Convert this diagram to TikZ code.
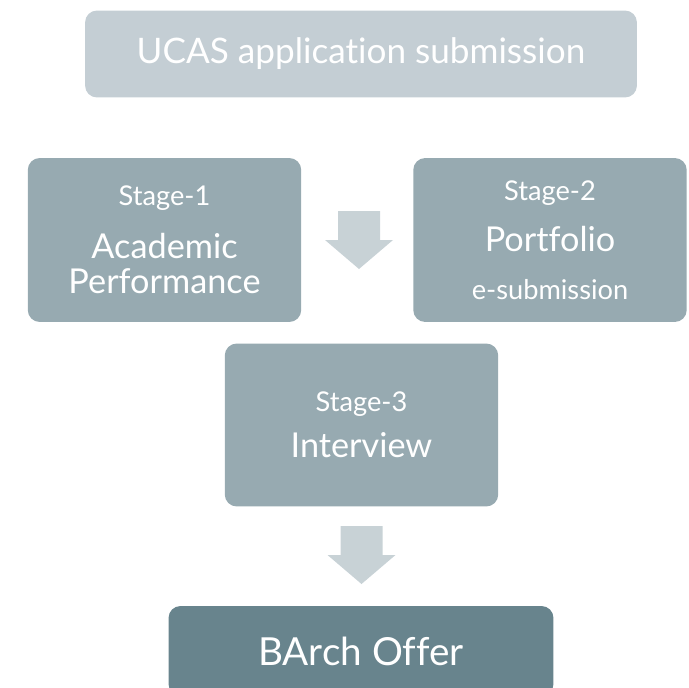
\documentclass[tikz,border=0pt]{standalone}
\usepackage{fontspec}
\setmainfont{Lato}[Ligatures=NoCommon]

\definecolor{ucasgrey}{HTML}{C4CED4}
\definecolor{stagegrey}{HTML}{97AAB1}
\definecolor{offerteal}{HTML}{68848D}
\definecolor{arrowgrey}{HTML}{C8D2D6}

\newcommand{\stagelabel}{\fontsize{15.5}{20}\selectfont}
\newcommand{\stagetitle}{\fontsize{19.5}{20}\selectfont}

\begin{document}
\begin{tikzpicture}[x=0.02cm,y=-0.02cm,
    box/.style={rounded corners=0.24cm, text=white, align=center, inner sep=0pt},
    stagebox/.style={box, fill=stagegrey, minimum width=5.47cm, minimum height=3.28cm, font=\stagetitle},
    blockarrow/.style={fill=arrowgrey}]
    \useasboundingbox (0,0) rectangle (689,687);
    \clip (0,0) rectangle (689,687);
    \node (ucas) [box, fill=ucasgrey, minimum width=11.04cm, minimum height=1.74cm,
        font=\fontsize{20}{22}\selectfont] at (361,54) {UCAS application submission};
    \node (stage1) [stagebox] at (164.5,240) {{\stagelabel Stage-1}\\[10pt]Academic\\Performance};
    \node (stage2) [stagebox] at (550,240) {{\stagelabel Stage-2}\\[9.5pt]Portfolio\\[7pt]{\stagelabel e-submission}};
    \node (stage3) [stagebox, minimum height=3.26cm] at (361.5,425) {{\stagelabel Stage-3}\\[6pt]Interview};
    \node (offer) [box, fill=offerteal, minimum width=7.7cm, minimum height=1.8cm,
        font=\fontsize{22}{24}\selectfont] at (361,651) {BArch Offer};
    % down arrows
    \coordinate (arrow1) at (359,211);
    \coordinate (arrow2) at (361.5,526);
    \foreach \a in {arrow1,arrow2}
        \fill [blockarrow] (\a) ++(-21,0) -- ++(42,0) -- ++(0,29) -- ++(13,0)
            -- ++(-34,29) -- ++(-34,-29) -- ++(13,0) -- cycle;
\end{tikzpicture}
\end{document}
